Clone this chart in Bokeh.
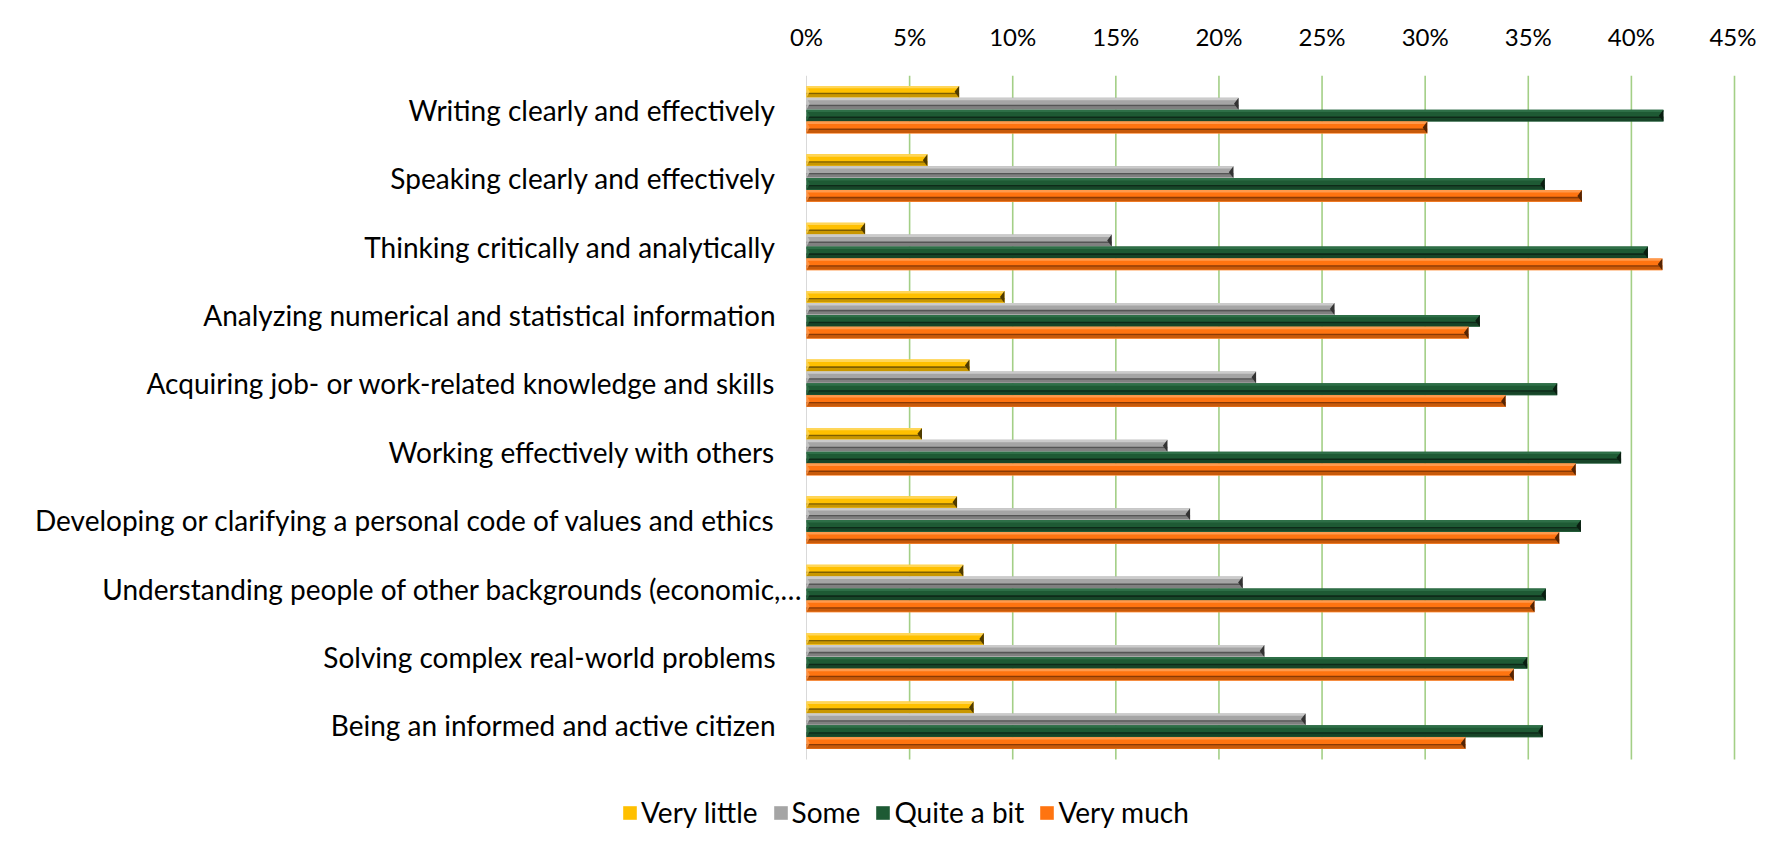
from bokeh.plotting import figure
from bokeh.models import Range1d, FixedTicker, PrintfTickFormatter, Legend, LegendItem, ColumnDataSource
from bokeh.core.properties import value
from bokeh.embed import file_html
from bokeh.resources import INLINE

# ---------------- data ----------------
categories = [
    "Writing clearly and effectively",
    "Speaking clearly and effectively",
    "Thinking critically and analytically",
    "Analyzing numerical and statistical information",
    "Acquiring job- or work-related knowledge and skills",
    "Working effectively with others",
    "Developing or clarifying a personal code of values and ethics",
    "Understanding people of other backgrounds (economic,\u2026",
    "Solving complex real-world problems",
    "Being an informed and active citizen",
]
very_little = [7.4, 5.86, 2.84, 9.6, 7.9, 5.6, 7.3, 7.6, 8.6, 8.1]
some = [20.95, 20.7, 14.8, 25.6, 21.8, 17.5, 18.6, 21.15, 22.2, 24.2]
quite_a_bit = [41.55, 35.8, 40.8, 32.65, 36.4, 39.5, 37.55, 35.85, 34.95, 35.7]
very_much = [30.1, 37.6, 41.5, 32.1, 33.9, 37.3, 36.5, 35.3, 34.3, 31.95]
series_names = ["Very little", "Some", "Quite a bit", "Very much"]
x_ticks = [0, 5, 10, 15, 20, 25, 30, 35, 40, 45]

FONT = "Lato"
FS_CAT = "28px"
FS_TICK = "24px"
TXT = "#000000"

# ---------------- layout constants (pixels) ----------------
W, H = 1756, 836
TOP = 75            # space above the bar area (tick labels)
PLOT_LEFT = 806     # screen x of the 0% line
PLOT_W = 928        # width of 0..45%
PLOT_H = 684        # height of the bar area
n = len(categories)
PX = PLOT_W / (x_ticks[-1] - x_ticks[0])       # px per percent
PY = PLOT_H / n                                  # px per category
extra_below = (H - TOP - PLOT_H) / PY

ypos = [n - 1 - i for i in range(n)]

p = figure(width=W, height=H,
           min_border_left=0, min_border_right=0,
           min_border_top=TOP, min_border_bottom=0,
           x_range=Range1d(-PLOT_LEFT / PX, (W - PLOT_LEFT) / PX),
           y_range=Range1d(-0.5 - extra_below, n - 0.5),
           x_axis_location="above", y_axis_location=None,
           output_backend="svg", toolbar_location=None, tools="")
p.outline_line_color = None
p.xgrid.grid_line_color = None
p.ygrid.grid_line_color = None

# x axis (top)
xa = p.xaxis[0]
xa.ticker = FixedTicker(ticks=x_ticks)
xa.formatter = PrintfTickFormatter(format="%d%%")
xa.axis_line_color = None
xa.major_tick_line_color = None
xa.minor_tick_line_color = None
xa.major_tick_out = 0
xa.minor_tick_out = 0
xa.major_label_text_font = FONT
xa.major_label_text_font_size = FS_TICK
xa.major_label_text_color = TXT
xa.major_label_standoff = 25

# vertical gridlines limited to the bar area, and the 0% axis line
p.segment(x0=x_ticks[1:], x1=x_ticks[1:], y0=-0.5, y1=n - 0.5,
          line_color="#A3CF86", line_width=1.6)
p.segment(x0=[x_ticks[0]], x1=[x_ticks[0]], y0=-0.5, y1=n - 0.5,
          line_color="#D9D9D9", line_width=1)

# category labels
label_src = ColumnDataSource(dict(
    x=[0] * n, y=ypos, text=categories,
    xo=[-4 if c.endswith("\u2026") else -31 for c in categories],
))
p.text(x="x", y="y", text="text", x_offset="xo", source=label_src,
       text_align="right", text_baseline="middle",
       text_font=value(FONT), text_font_size=value(FS_CAT), text_color=TXT)

# ---------------- bars ----------------
bh = 0.174
offsets = [1.5 * bh, 0.5 * bh, -0.5 * bh, -1.5 * bh]
series = [very_little, some, quite_a_bit, very_much]
# main, light, stripe, shade, tip
palettes = [
    ("#FFC000", "#FFD659", "#7F5F00", "#C99700", "#4F3B00"),
    ("#A5A5A5", "#CBCBCB", "#555555", "#808080", "#333333"),
    ("#1E5A34", "#2E6F47", "#0E2A18", "#174528", "#0A1D10"),
    ("#FF7410", "#FF9A4D", "#8A3A04", "#C85A0A", "#552403"),
]
tip_w = 0.22

items = []
for name, vals, off, pal in zip(series_names, series, offsets, palettes):
    main, light, stripe, shade, tip = pal
    yc = [y + off for y in ypos]
    r = p.hbar(y=yc, left=0, right=vals, height=bh, fill_color=main, line_color=None)
    p.hbar(y=[y + bh * 0.5 - bh * 0.1 for y in yc], left=0, right=vals, height=bh * 0.2,
           fill_color=light, line_color=None)
    p.hbar(y=[y - bh * 0.5 + bh * 0.17 for y in yc], left=0, right=vals, height=bh * 0.26,
           fill_color=shade, line_color=None)
    p.hbar(y=[y - bh * 0.5 + bh * 0.36 for y in yc], left=0, right=vals, height=bh * 0.13,
           fill_color=stripe, line_color=None)
    p.hbar(y=[y - bh * 0.5 + bh * 0.02 for y in yc], left=0, right=vals, height=bh * 0.04,
           fill_color=light, line_color=None, fill_alpha=0.8)
    xs = [[v, v, v - tip_w] for v in vals]
    ys = [[y + bh / 2, y - bh / 2, y] for y in yc]
    p.patches(xs, ys, fill_color=tip, line_color=None)
    xs2 = [[0, 0, tip_w * 0.7] for v in vals]
    p.patches(xs2, ys, fill_color=light, line_color=None, fill_alpha=0.8)
    items.append(LegendItem(label=name, renderers=[r]))

legend = Legend(items=items, orientation="horizontal",
                location=(621, 7), glyph_width=17, glyph_height=17,
                label_standoff=3, spacing=14, padding=0, margin=0,
                border_line_color=None, background_fill_alpha=0,
                label_text_font=FONT, label_text_font_size=FS_CAT,
                label_text_color=TXT)
p.add_layout(legend)

open("out.html", "w").write(file_html(p, INLINE))
